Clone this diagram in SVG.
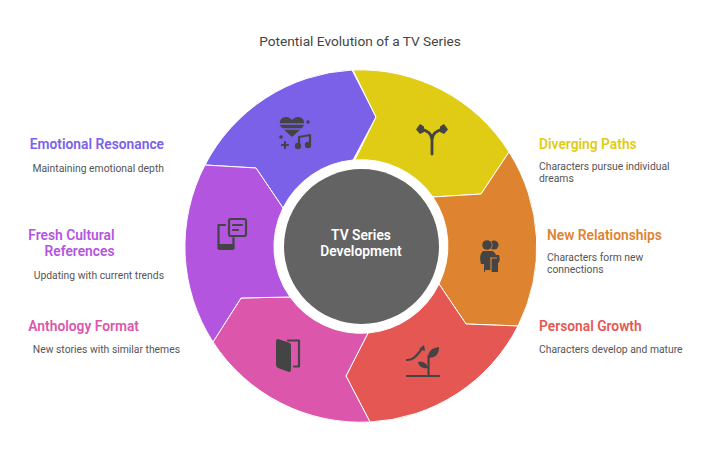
<svg xmlns="http://www.w3.org/2000/svg" width="720" height="461" viewBox="0 0 720 461">
<style>
text{font-family:Roboto,"Liberation Sans",sans-serif}
.t{font-size:13.800px;font-weight:600}
.d{font-size:10.350px;fill:#555}
.e{text-anchor:end}
.s{stroke:#fff;stroke-width:1}
.il{fill:none;stroke:#444;stroke-width:2.200;stroke-linecap:round;stroke-linejoin:round}
.if{fill:#444}
</style>
<rect width="720" height="461" fill="#fff"/>
<text id="title" x="360" y="46" text-anchor="middle" font-size="13.700" fill="#444">Potential Evolution of a TV Series</text>
<g id="emotional-resonance">
<path class="s" fill="#7b61e8" d="M205 165A176 176 0 0 1 352 70L376 117L353 160A87 87 0 0 0 283 208L256 168Z"/>
<g><path class="if" d="M292 137L281 127C278 122 281 117 286 117C289 117 291 119 292 120C293 119 295 117 298 117C303 117 306 122 303 127Z"/><path fill="none" stroke="#7b61e8" stroke-width="1.400" d="M279 124H305M279 129H305"/><circle class="if" cx="308" cy="122" r="1.800"/><circle class="if" cx="281" cy="137" r="1.800"/><path class="il" d="M282 145H288M285 142V148"/><path class="il" d="M299 147V137L310 135V145"/><circle class="if" cx="298" cy="146" r="3.200"/><circle class="if" cx="308" cy="145" r="3.200"/></g>
<text class="t e" x="164" y="148.500" fill="#7b61e8">Emotional Resonance</text>
<text class="d e" x="164" y="172">Maintaining emotional depth</text>
</g>
<g id="diverging-paths">
<path class="s" fill="#e0cb15" d="M353 70A176 176 0 0 1 509 152L481 194L433 197A87 87 0 0 0 355 160L376 117Z"/>
<g><path fill="none" stroke="#444" stroke-width="2.800" stroke-linecap="round" d="M432 154V140C432 134 427 130 420 129M432 140C432 134 437 130 444 129"/><path class="if" d="M416 129.500L420 124L424 126.500V132L420 134ZM448 129.500L444 124L440 126.500V132L444 134Z"/></g>
<text class="t" x="539" y="148.500" fill="#e0cb15">Diverging Paths</text>
<text class="d" x="539" y="170">Characters pursue individual</text>
<text class="d" x="539" y="182">dreams</text>
</g>
<g id="new-relationships">
<path class="s" fill="#de8431" d="M509 152A176 176 0 0 1 518 326L466 324L439 284A87 87 0 0 0 433 197L481 194Z"/>
<g><circle class="if" cx="494" cy="245" r="4.500"/><circle cx="487" cy="245" r="5.500" fill="#de8431"/><circle class="if" cx="487" cy="245" r="4.800"/><path class="if" d="M483 251H491C494 251 495 253 496 255H499C500 258 500 262 498 263V272H491V270H485V272H484V264H481C480 260 479 255 483 251Z"/><path fill="none" stroke="#de8431" stroke-width="1.200" d="M490 258H497M491 258V272"/></g>
<text class="t" x="547" y="239.500" fill="#de8431">New Relationships</text>
<text class="d" x="547" y="261">Characters form new</text>
<text class="d" x="547" y="273">connections</text>
</g>
<g id="personal-growth">
<path class="s" fill="#e55753" d="M518 326A176 176 0 0 1 370 422L346 376L368 333A87 87 0 0 0 439 284L466 324Z"/>
<g><path class="il" d="M407 376H439M428.500 376V356"/><path class="if" d="M428 358C428 351 432 348 439 347C439 354 436 358 428 358ZM428 368C427 363 423 361 418 362C419 367 423 369 428 368Z"/><path class="il" d="M407 360C415 360 417 354 422 349"/><path class="if" d="M424 345L425 351L419 349Z"/></g>
<text class="t" x="539" y="330.500" fill="#e55753">Personal Growth</text>
<text class="d" x="539" y="353">Characters develop and mature</text>
</g>
<g id="anthology-format">
<path class="s" fill="#dc56ab" d="M370 422A176 176 0 0 1 213 342L241 298L290 297A87 87 0 0 0 368 333L346 376Z"/>
<g><path class="if" d="M276 341Q276 339 278 339L290 343Q291 344 291 346V370Q291 372 289 372L278 368Q276 367 276 365Z"/><path class="il" d="M288 340.500H299V366.500H294"/></g>
<text class="t e" x="139" y="330.500" fill="#dc56ab">Anthology Format</text>
<text class="d e" x="180" y="353">New stories with similar themes</text>
</g>
<g id="fresh-cultural-references">
<path class="s" fill="#b455e0" d="M213 342A176 176 0 0 1 205 165L256 168L283 208A87 87 0 0 0 290 297L241 298Z"/>
<g><path class="il" d="M225 225H218.500V248.500H233.500V238"/><path class="if" d="M218 244H234V248Q234 250 232 250H220Q218 250 218 248Z"/><rect class="il" x="229" y="219" width="17" height="17" rx="2"/><path class="il" stroke-width="1.500" d="M233 225H242M233 230H238"/></g>
<text class="t e" x="114.500" y="239.500" fill="#b455e0">Fresh Cultural</text>
<text class="t e" x="114.500" y="255.500" fill="#b455e0">References</text>
<text class="d e" x="164" y="279">Updating with current trends</text>
</g>
<g id="center">
<circle cx="361.500" cy="246.500" r="77.500" fill="#636363"/>
<text x="361" y="239.500" text-anchor="middle" font-size="13.800" font-weight="600" fill="#fff">TV Series</text>
<text x="361" y="256" text-anchor="middle" font-size="13.800" font-weight="600" fill="#fff">Development</text>
</g>
</svg>
